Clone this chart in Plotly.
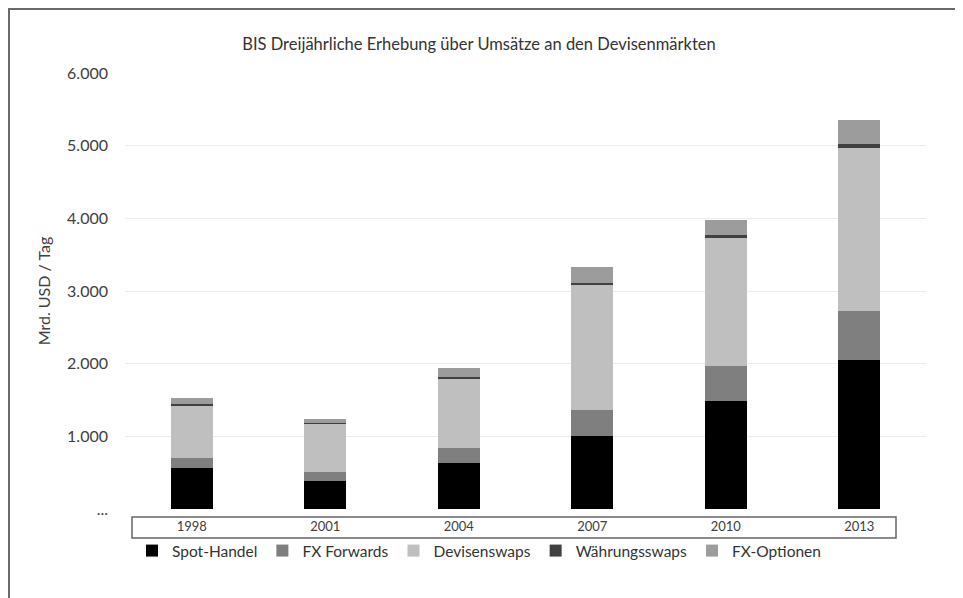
import plotly.graph_objects as go

years = ["1998", "2001", "2004", "2007", "2010", "2013"]
spot = [568, 386, 631, 1005, 1489, 2047]
forwards = [128, 130, 209, 362, 475, 679]
fx_swaps = [734, 656, 954, 1714, 1759, 2240]
currency_swaps = [10, 7, 21, 31, 43, 54]
options = [87, 60, 119, 212, 207, 337]

series_names = ["Spot-Handel", "FX Forwards", "Devisenswaps", "Währungsswaps", "FX-Optionen"]
series_values = [spot, forwards, fx_swaps, currency_swaps, options]
series_colors = ["#000000", "#7f7f7f", "#bfbfbf", "#404040", "#9c9c9c"]

ytick_vals = [0, 1000, 2000, 3000, 4000, 5000, 6000]
ytick_text = ["...", "1.000", "2.000", "3.000", "4.000", "5.000", "6.000"]

FONT = "Lato"

fig = go.Figure()
for name, vals, col in zip(series_names, series_values, series_colors):
    fig.add_trace(go.Bar(x=years, y=vals, name=name, marker_color=col,
                         marker_line_width=0))

# page has an 8px body margin; figure is sized to fit the window
OFF = 8
W, H = 963 - OFF, 598 - OFF
L, T = 125 - OFF, 73 - OFF
pw, ph = 801, 436
R, B = W - L - pw, H - T - ph

def px_x(px):
    return (px - OFF - L) / pw

def px_y(py):
    return (T + ph - (py - OFF)) / ph

fig.update_layout(
    width=W, height=H,
    margin=dict(l=L, r=R, t=T, b=B),
    barmode="stack",
    bargap=0.685,
    plot_bgcolor="white",
    paper_bgcolor="white",
    font=dict(family=FONT, color="#404040", size=16),
    title=dict(text="BIS Dreijährliche Erhebung über Umsätze an den Devisenmärkten",
               x=px_x(479), xanchor="center", xref="paper",
               y=1 - (44 - OFF) / H, yanchor="middle",
               font=dict(family=FONT, size=16.5, color="#333333")),
    xaxis=dict(showgrid=False, showline=False, ticks="", zeroline=False,
               tickfont=dict(size=13, color="#404040"), ticklabelstandoff=8),
    yaxis=dict(range=[0, 6000], tickvals=ytick_vals, ticktext=ytick_text,
               showgrid=True, gridcolor="#ebebeb", gridwidth=1, zeroline=False,
               showline=False, ticks="", ticklabelstandoff=16,
               tickfont=dict(size=16, color="#404040"),
               title=dict(text="Mrd. USD / Tag", standoff=12,
                          font=dict(size=16, color="#404040"))),
    legend=dict(orientation="h", x=px_x(479), xanchor="center", y=px_y(551),
                yanchor="middle", font=dict(size=15.5, color="#333333"),
                itemwidth=30, traceorder="normal", bgcolor="rgba(0,0,0,0)"),
    showlegend=True,
)

# Box around category labels
fig.add_shape(type="rect", xref="paper", yref="paper",
              x0=px_x(132), x1=px_x(896), y0=px_y(538), y1=px_y(517),
              line=dict(color="#666666", width=1.5), fillcolor="rgba(0,0,0,0)")
# Outer frame
fig.add_shape(type="rect", xref="paper", yref="paper",
              x0=px_x(9), x1=px_x(956), y0=px_y(605), y1=px_y(9),
              line=dict(color="#6a6a6a", width=2), fillcolor="rgba(0,0,0,0)")

fig.write_html("out.html")
